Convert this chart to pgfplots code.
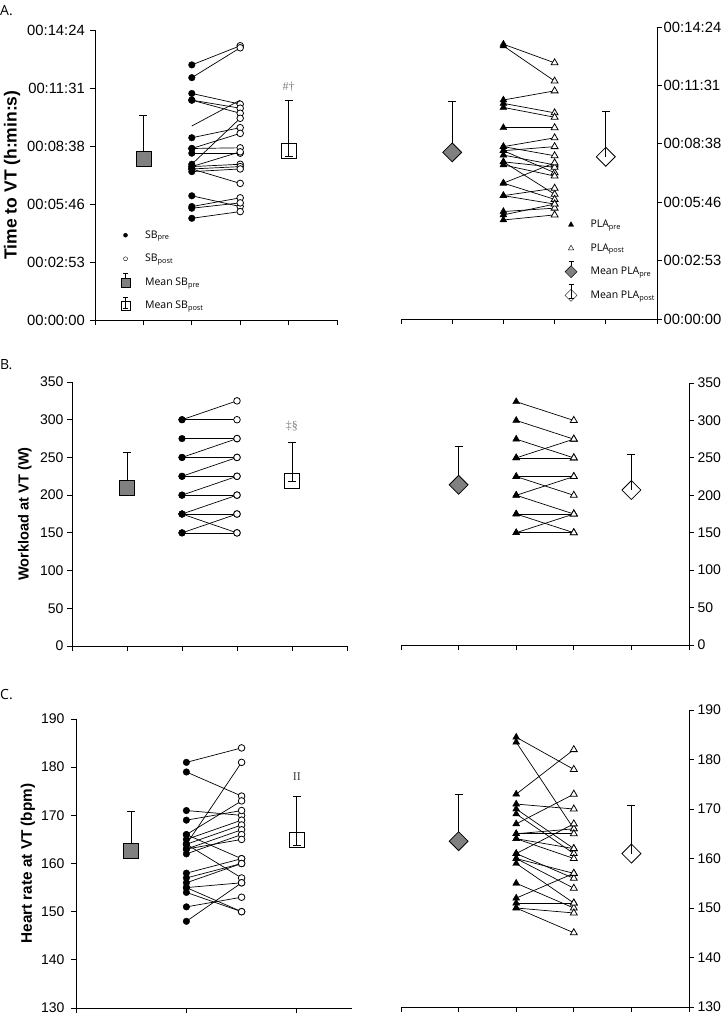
\documentclass[border=0pt]{standalone}
\usepackage{pgfplots}
\pgfplotsset{compat=1.18}
\usepackage{pgfplotstable}
\usepackage{fontspec}
\setmainfont{Liberation Sans}
\newfontfamily\legfont{Open Sans}
\newfontfamily\serif{Liberation Serif}
\definecolor{xgray}{RGB}{128,128,128}

% time to VT, seconds
\pgfplotstableread{
pre post
760 817
722 811
675 643
655 631
655 616
543 573
511 556
511 513
497 497
464 601
457 464
457 501
450 457
442 450
450 407
370 338
338 364
333 349
303 323
}\tabAsb
\pgfplotstableread{
pre post
813 758
808 704
648 675
638 610
626 597
566 566
510 536
510 483
498 510
498 433
485 456
465 449
456 423
465 369
402 462
402 354
365 387
365 340
318 328
308 340
293 308
}\tabApla
% workload, W
\pgfplotstableread{
pre post
300 325
300 300
275 275
250 275
250 250
225 250
225 225
200 225
200 200
175 200
175 175
175 150
150 175
150 150
}\tabBsb
\pgfplotstableread{
pre post
325 300
300 275
275 250
250 275
250 250
225 225
225 200
200 225
200 175
175 175
175 150
150 175
150 150
}\tabBpla
% heart rate, bpm
\pgfplotstableread{
pre post
181 184
179 174
171 170
169 171
164 181
166 173
165 169
164 168
163 167
162 166
163 165
164 157
166 161
158 161
157 160
156 160
155 156
154 150
155 150
151 153
148 156
}\tabCsb
\pgfplotstableread{
pre post
184.5 178
183.5 166
173 182
171 170
167 173
170 162
169 161
165 166
165 165
164 162
164 160
161 167
160 157
160 154
159 151
161 156
155 150
152 157
151 151
150 149
150 145
}\tabCpla

\pgfplotsset{
  panel/.style={scale only axis, clip=false, xmin=0, xmax=5,
    xtick={0,1,2,3,4,5}, xticklabels={},
    axis x line*=bottom, axis line style={-, black, line width=1pt},
    tick style={black, line width=0.8pt}, major tick length=5pt, tick align=outside,
    /pgf/number format/assume math mode=true},
  pairs/.style={black, line width=0.7pt, no markers,
    quiver={u=1, v=\thisrow{post}-\thisrow{pre}}},
  prec/.style={only marks, mark=*, mark size=3.3pt, black},
  postc/.style={only marks, mark=*, mark size=3.3pt,
    mark options={draw=black, fill=white, line width=0.8pt}},
  pret/.style={only marks, mark=triangle*, mark size=4pt, black},
  postt/.style={only marks, mark=triangle*, mark size=4pt,
    mark options={draw=black, fill=white, line width=0.8pt}},
  meanbar/.style={only marks, error bars/.cd, y dir=plus, y explicit,
    error bar style={black, line width=0.8pt},
    error mark options={rotate=90, mark size=4pt, black, line width=0.8pt},
    /pgfplots/.cd},
  meanbarb/.style={meanbar, error bars/y dir=both},
  sqpre/.style={mark=square*, mark size=7.5pt, mark options={draw=black, fill=xgray, line width=0.8pt}},
  sqpost/.style={mark=square, mark size=7.5pt, mark options={draw=black, line width=0.8pt}},
  dmpre/.style={mark=square*, mark size=6.7pt, mark options={rotate=45, draw=black, fill=xgray, line width=0.8pt}},
  dmpost/.style={mark=square, mark size=6.7pt, mark options={rotate=45, draw=black, line width=0.8pt}},
  leg/.style={legend cell align=left,
    legend style={draw=none, fill=none, inner sep=0pt, row sep=6pt,
      font=\legfont\fontsize{10.5}{12}\selectfont,
      /tikz/every odd column/.append style={column sep=9pt}}},
  legbox/.style={legend image code/.code={\path[draw=none, fill=none] (0cm,-6pt) rectangle (0.6cm,11pt); #1}},
}

\begin{document}
\begin{tikzpicture}
\useasboundingbox (0pt,0pt) rectangle (724pt,-1022pt);
\node[anchor=west, inner sep=0pt, font=\legfont\fontsize{14}{16}\selectfont] at (0pt,-11pt) {A.};
\node[anchor=west, inner sep=0pt, font=\legfont\fontsize{14}{16}\selectfont] at (0pt,-365pt) {B.};
\node[anchor=west, inner sep=0pt, font=\legfont\fontsize{14}{16}\selectfont] at (0pt,-695pt) {C.};

% ---- A, SB
\begin{axis}[panel, axis y line*=left, at={(95pt,-320pt)}, anchor=south west,
  width=242pt, height=290pt, ymin=0, ymax=864,
  ytick={0,172.8,345.6,518.4,691.2,864},
  yticklabels={00:00:00,00:02:53,00:05:46,00:08:38,00:11:31,00:14:24},
  tick label style={font=\fontsize{14.8}{17}\selectfont},
  yticklabel style={inner sep=0pt, xshift=-5pt},
  ylabel={Time to VT (h:min:s)},
  ylabel style={at={(axis description cs:-0.343,0.5)}, anchor=center, font=\bfseries\fontsize{17.5}{20}\selectfont},
  leg, legend style={at={(axis description cs:0.09,0.331)}, anchor=north west}]
\addlegendimage{legbox={\fill[black] (0.3cm,0pt) circle (2pt);}}
\addlegendentry{SB\textsubscript{pre}}
\addlegendimage{legbox={\draw[black, thin] (0.3cm,0pt) circle (2pt);}}
\addlegendentry{SB\textsubscript{post}}
\addlegendimage{legbox={
  \draw[black, fill=xgray] (0.3cm-4.5pt,-4.5pt) rectangle (0.3cm+4.5pt,4.5pt);
  \draw[black] (0.3cm,4.5pt)--(0.3cm,9pt) (0.3cm-2.5pt,9pt)--(0.3cm+2.5pt,9pt);}}
\addlegendentry{Mean SB\textsubscript{pre}}
\addlegendimage{legbox={
  \draw[black, fill=white] (0.3cm-4.5pt,-4.5pt) rectangle (0.3cm+4.5pt,4.5pt);
  \draw[black] (0.3cm,-2.5pt)--(0.3cm,9pt) (0.3cm-2.5pt,9pt)--(0.3cm+2.5pt,9pt)
    (0.3cm-2.5pt,-2.5pt)--(0.3cm+2.5pt,-2.5pt);}}
\addlegendentry{Mean SB\textsubscript{post}}
\addplot[pairs, forget plot] table[x expr=2, y=pre] {\tabAsb};
\addplot[black, line width=0.7pt, forget plot] coordinates {(2,578) (3,655)};
\addplot[prec, forget plot] table[x expr=2, y=pre] {\tabAsb};
\addplot[postc, forget plot] table[x expr=3, y=post] {\tabAsb};
\addplot[sqpre, meanbar, forget plot] coordinates {(1,479) +- (0,132)};
\addplot[sqpost, meanbarb, forget plot] coordinates {(4,505) += (0,150) -= (0,18)};
\node[font=\serif\fontsize{12}{14}\selectfont, text=xgray] at (axis cs:4,695) {\#†};
\end{axis}

% ---- A, PLA
\begin{axis}[panel, axis y line*=right, at={(401pt,-319pt)}, anchor=south west,
  width=256pt, height=292pt, ymin=0, ymax=864,
  ytick={0,172.8,345.6,518.4,691.2,864},
  yticklabels={00:00:00,00:02:53,00:05:46,00:08:38,00:11:31,00:14:24},
  tick label style={font=\fontsize{14.8}{17}\selectfont},
  yticklabel style={inner sep=0pt, xshift=1.5pt},
  leg, legend style={at={(axis description cs:0.63,0.362)}, anchor=north west}]
\addlegendimage{legbox={\fill[black] (0.3cm-2.6pt,-1.8pt)--(0.3cm+2.6pt,-1.8pt)--(0.3cm,2.8pt)--cycle;}}
\addlegendentry{PLA\textsubscript{pre}}
\addlegendimage{legbox={\draw[black, thin] (0.3cm-2.6pt,-1.8pt)--(0.3cm+2.6pt,-1.8pt)--(0.3cm,2.8pt)--cycle;}}
\addlegendentry{PLA\textsubscript{post}}
\addlegendimage{legbox={
  \draw[black, fill=xgray] (0.3cm,-6pt)--(0.3cm+6pt,0pt)--(0.3cm,6pt)--(0.3cm-6pt,0pt)--cycle;
  \draw[black] (0.3cm,6pt)--(0.3cm,11pt) (0.3cm-2.5pt,11pt)--(0.3cm+2.5pt,11pt);}}
\addlegendentry{Mean PLA\textsubscript{pre}}
\addlegendimage{legbox={
  \draw[black, fill=white] (0.3cm,-6pt)--(0.3cm+6pt,0pt)--(0.3cm,6pt)--(0.3cm-6pt,0pt)--cycle;
  \draw[black] (0.3cm,-2.5pt)--(0.3cm,11pt) (0.3cm-2.5pt,11pt)--(0.3cm+2.5pt,11pt)
    (0.3cm-2.5pt,-2.5pt)--(0.3cm+2.5pt,-2.5pt);}}
\addlegendentry{Mean PLA\textsubscript{post}}
\addplot[pairs, forget plot] table[x expr=2, y=pre] {\tabApla};
\addplot[pret, forget plot] table[x expr=2, y=pre] {\tabApla};
\addplot[postt, forget plot] table[x expr=3, y=post] {\tabApla};
\addplot[dmpre, meanbar, forget plot] coordinates {(1,493) +- (0,150)};
\addplot[dmpost, meanbar, forget plot] coordinates {(4,480) +- (0,133)};
\end{axis}

% ---- B, SB
\begin{axis}[panel, axis y line*=left, at={(72pt,-646pt)}, anchor=south west,
  width=275pt, height=264pt, ymin=0, ymax=350, ytick={0,50,...,350},
  tick label style={font=\fontsize{14}{16}\selectfont},
  ylabel={Workload at VT (W)},
  ylabel style={at={(axis description cs:-0.171,0.5)}, anchor=center, font=\bfseries\fontsize{14.6}{17}\selectfont}]
\addplot[pairs] table[x expr=2, y=pre] {\tabBsb};
\addplot[prec] table[x expr=2, y=pre] {\tabBsb};
\addplot[postc] table[x expr=3, y=post] {\tabBsb};
\addplot[sqpre, meanbar] coordinates {(1,210) +- (0,46.5)};
\addplot[sqpost, meanbarb] coordinates {(4,219) += (0,51) -= (0,0.5)};
\node[font=\serif\fontsize{12}{14}\selectfont, text=xgray] at (axis cs:4,292) {‡§};
\end{axis}

% ---- B, PLA
\begin{axis}[panel, axis y line*=right, at={(401pt,-645pt)}, anchor=south west,
  width=288pt, height=262pt, ymin=0, ymax=350, ytick={0,50,...,350},
  tick label style={font=\fontsize{14}{16}\selectfont}]
\addplot[pairs] table[x expr=2, y=pre] {\tabBpla};
\addplot[pret] table[x expr=2, y=pre] {\tabBpla};
\addplot[postt] table[x expr=3, y=post] {\tabBpla};
\addplot[dmpre, meanbar] coordinates {(1,214) +- (0,51)};
\addplot[dmpost, meanbar] coordinates {(4,207) +- (0,48)};
\end{axis}

% ---- C, SB
\begin{axis}[panel, axis y line*=left, at={(76pt,-1008pt)}, anchor=south west,
  width=276pt, height=289pt, ymin=130, ymax=190, ytick={130,140,...,190},
  xtick={0,2,4},
  tick label style={font=\fontsize{14}{16}\selectfont},
  yticklabel style={xshift=-3pt},
  ylabel={Heart rate at VT (bpm)},
  ylabel style={at={(axis description cs:-0.174,0.5)}, anchor=center, font=\bfseries\fontsize{15.3}{18}\selectfont}]
\addplot[pairs] table[x expr=2, y=pre] {\tabCsb};
\addplot[prec] table[x expr=2, y=pre] {\tabCsb};
\addplot[postc] table[x expr=3, y=post] {\tabCsb};
\addplot[sqpre, meanbar] coordinates {(1,162.7) +- (0,8.2)};
\addplot[sqpost, meanbarb] coordinates {(4,164.9) += (0,9.1) -= (0,1.2)};
\node[font=\serif\fontsize{12}{14}\selectfont, text=black!75] at (axis cs:4,178) {II};
\end{axis}

% ---- C, PLA
\begin{axis}[panel, axis y line*=right, at={(401pt,-1007pt)}, anchor=south west,
  width=288pt, height=297pt, ymin=130, ymax=190, ytick={130,140,...,190},
  tick label style={font=\fontsize{14}{16}\selectfont}]
\addplot[pairs] table[x expr=2, y=pre] {\tabCpla};
\addplot[pret] table[x expr=2, y=pre] {\tabCpla};
\addplot[postt] table[x expr=3, y=post] {\tabCpla};
\addplot[dmpre, meanbar] coordinates {(1,163.5) +- (0,9.4)};
\addplot[dmpost, meanbar] coordinates {(4,161.0) +- (0,9.8)};
\end{axis}
\end{tikzpicture}
\end{document}
